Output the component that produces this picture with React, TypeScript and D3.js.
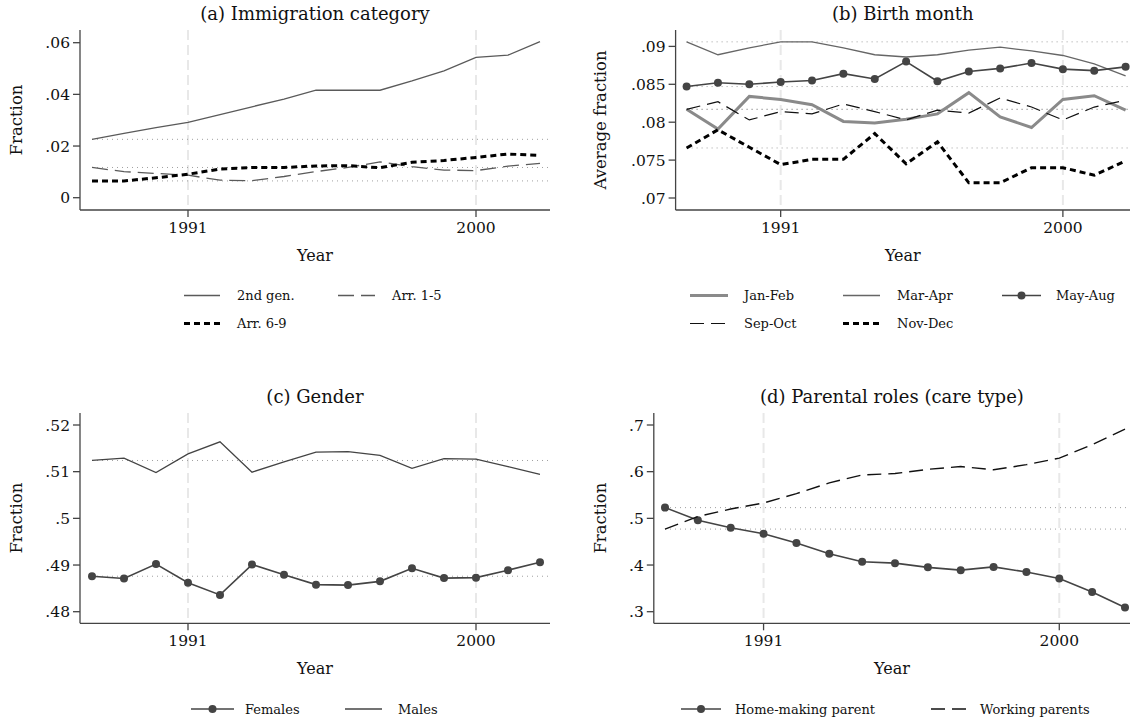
import React from "react";
import * as d3 from "d3";

// ---------- DATA ----------
const years = [1988, 1989, 1990, 1991, 1992, 1993, 1994, 1995, 1996, 1997, 1998, 1999, 2000, 2001, 2002];
const xTickYears = [1991, 2000];

// (a) Immigration category
const secondGen = [0.0226, 0.0249, 0.0271, 0.0292, 0.0322, 0.0352, 0.0382, 0.0416, 0.0416, 0.0416, 0.0452, 0.0491, 0.0543, 0.0552, 0.0604];
const arr15 = [0.0117, 0.0101, 0.0094, 0.0087, 0.0068, 0.0066, 0.0082, 0.0101, 0.0117, 0.0139, 0.012, 0.0107, 0.0105, 0.0122, 0.0133];
const arr69 = [0.0065, 0.0065, 0.0077, 0.0091, 0.0111, 0.0117, 0.0117, 0.0123, 0.0124, 0.0116, 0.0137, 0.0144, 0.0156, 0.0169, 0.0164];
const ticksA = [0, 0.02, 0.04, 0.06];
const tickLabelsA = ["0", ".02", ".04", ".06"];

// (b) Birth month
const janFeb = [0.0817, 0.0791, 0.0834, 0.083, 0.0823, 0.0801, 0.0799, 0.0804, 0.0811, 0.0839, 0.0807, 0.0793, 0.083, 0.0835, 0.0816];
const marApr = [0.0906, 0.0889, 0.0898, 0.0906, 0.0906, 0.0898, 0.0889, 0.0886, 0.0889, 0.0895, 0.0899, 0.0894, 0.0888, 0.0877, 0.0861];
const mayAug = [0.0847, 0.0852, 0.085, 0.0853, 0.0855, 0.0864, 0.0857, 0.088, 0.0854, 0.0867, 0.0871, 0.0878, 0.087, 0.0868, 0.0873];
const sepOct = [0.0817, 0.0827, 0.0803, 0.0814, 0.0811, 0.0824, 0.0814, 0.0803, 0.0816, 0.0812, 0.0832, 0.082, 0.0803, 0.082, 0.0829];
const novDec = [0.0766, 0.079, 0.0767, 0.0744, 0.0751, 0.0751, 0.0785, 0.0745, 0.0774, 0.072, 0.072, 0.074, 0.074, 0.073, 0.0749];
const ticksB = [0.07, 0.075, 0.08, 0.085, 0.09];
const tickLabelsB = [".07", ".075", ".08", ".085", ".09"];

// (c) Gender
const females = [0.4876, 0.4871, 0.4902, 0.4862, 0.4836, 0.4901, 0.4879, 0.4858, 0.4857, 0.4865, 0.4893, 0.4872, 0.4873, 0.4889, 0.4906];
const males = [0.5124, 0.5129, 0.5098, 0.5138, 0.5164, 0.5099, 0.5121, 0.5142, 0.5143, 0.5135, 0.5107, 0.5128, 0.5127, 0.5111, 0.5094];
const ticksC = [0.48, 0.49, 0.5, 0.51, 0.52];
const tickLabelsC = [".48", ".49", ".5", ".51", ".52"];

// (d) Parental roles
const homeMaking = [0.523, 0.496, 0.48, 0.467, 0.447, 0.424, 0.407, 0.404, 0.395, 0.389, 0.396, 0.385, 0.371, 0.342, 0.309];
const workingParents = [0.477, 0.504, 0.52, 0.533, 0.553, 0.576, 0.593, 0.596, 0.605, 0.611, 0.604, 0.615, 0.629, 0.658, 0.691];
const ticksD = [0.3, 0.4, 0.5, 0.6, 0.7];
const tickLabelsD = [".3", ".4", ".5", ".6", ".7"];

// ---------- STYLE ----------
const FONT = "'DejaVu Serif', serif";
const AXIS = "#444";

type Series = {
  name: string;
  values: number[];
  stroke: string;
  width: number;
  dash?: string;
  marker?: boolean;
};

type LegendItem = { series: Series; x: number; y: number; lineLen: number; textX: number };

type PanelProps = {
  title: string;
  ylabel: string;
  box: { l: number; t: number; r: number; b: number };
  xRange: [number, number];
  yDomain: [number, number];
  yRange: [number, number];
  ticks: number[];
  tickLabels: string[];
  ylabelX: number;
  series: Series[];
  legend: LegendItem[];
};

const Panel = (p: PanelProps) => {
  const x = d3.scaleLinear().domain([years[0], years[years.length - 1]]).range(p.xRange);
  const y = d3.scaleLinear().domain(p.yDomain).range(p.yRange);
  const line = (vals: number[]) =>
    d3
      .line<number>()
      .x((_, i) => x(years[i]))
      .y((v) => y(v))(vals) || "";
  const cx = (p.box.l + p.box.r) / 2;
  const cy = (p.box.t + p.box.b) / 2;
  return (
    <g>
      <text x={cx} y={p.box.t - 10} textAnchor="middle" fontFamily={FONT} fontSize={18} fill="#111">
        {p.title}
      </text>
      {/* vertical dashed grid lines */}
      {xTickYears.map((yr) => (
        <line
          key={"g" + yr}
          x1={x(yr)}
          x2={x(yr)}
          y1={p.box.t}
          y2={p.box.b}
          stroke="#e8e8e8"
          strokeWidth={2}
          strokeDasharray="10 5"
        />
      ))}
      {/* reference lines at first-year values */}
      {p.series.map((s) => (
        <line
          key={"r" + s.name}
          x1={x(years[0])}
          x2={p.box.r}
          y1={y(s.values[0])}
          y2={y(s.values[0])}
          stroke="#a0a0a0"
          strokeWidth={1}
          strokeDasharray="1 4"
        />
      ))}
      {/* series */}
      {p.series.map((s) => (
        <g key={"s" + s.name}>
          <path d={line(s.values)} fill="none" stroke={s.stroke} strokeWidth={s.width} strokeDasharray={s.dash} />
          {s.marker &&
            s.values.map((v, i) => <circle key={i} cx={x(years[i])} cy={y(v)} r={4} fill={s.stroke} />)}
        </g>
      ))}
      {/* axes */}
      <line x1={p.box.l} x2={p.box.l} y1={p.box.t} y2={p.box.b} stroke={AXIS} strokeWidth={1.3} />
      <line x1={p.box.l} x2={p.box.r} y1={p.box.b} y2={p.box.b} stroke={AXIS} strokeWidth={1.3} />
      {p.ticks.map((t, i) => (
        <g key={"yt" + i}>
          <line x1={p.box.l - 7} x2={p.box.l} y1={y(t)} y2={y(t)} stroke={AXIS} strokeWidth={1.3} />
          <text
            x={p.box.l - 10}
            y={y(t)}
            dy="0.36em"
            textAnchor="end"
            fontFamily={FONT}
            fontSize={15.5}
            fill="#111"
          >
            {p.tickLabels[i]}
          </text>
        </g>
      ))}
      {xTickYears.map((yr) => (
        <g key={"xt" + yr}>
          <line x1={x(yr)} x2={x(yr)} y1={p.box.b} y2={p.box.b + 7} stroke={AXIS} strokeWidth={1.3} />
          <text x={x(yr)} y={p.box.b + 23} textAnchor="middle" fontFamily={FONT} fontSize={15.5} fill="#111">
            {yr}
          </text>
        </g>
      ))}
      <text x={cx} y={p.box.b + 51} textAnchor="middle" fontFamily={FONT} fontSize={16} fill="#111">
        Year
      </text>
      <text
        transform={`translate(${p.ylabelX},${cy}) rotate(-90)`}
        textAnchor="middle"
        dy="0.36em"
        fontFamily={FONT}
        fontSize={16.5}
        fill="#111"
      >
        {p.ylabel}
      </text>
      {/* legend */}
      {p.legend.map((it, i) => (
        <g key={"l" + i}>
          <line
            x1={it.x}
            x2={it.x + it.lineLen}
            y1={it.y}
            y2={it.y}
            stroke={it.series.stroke}
            strokeWidth={it.series.width}
            strokeDasharray={it.series.dash}
          />
          {it.series.marker && <circle cx={it.x + it.lineLen / 2} cy={it.y} r={4} fill={it.series.stroke} />}
          <text x={it.textX} y={it.y} dy="0.35em" fontFamily={FONT} fontSize={13} fill="#111">
            {it.series.name}
          </text>
        </g>
      ))}
    </g>
  );
};

const sA: Series[] = [
  { name: "2nd gen.", values: secondGen, stroke: "#5a5a5a", width: 1.3 },
  { name: "Arr. 1-5", values: arr15, stroke: "#5a5a5a", width: 1.3, dash: "16 7" },
  { name: "Arr. 6-9", values: arr69, stroke: "#000", width: 3, dash: "6 4" },
];
const sB: Series[] = [
  { name: "Jan-Feb", values: janFeb, stroke: "#8a8a8a", width: 3 },
  { name: "Mar-Apr", values: marApr, stroke: "#666", width: 1.3 },
  { name: "May-Aug", values: mayAug, stroke: "#444", width: 1.6, marker: true },
  { name: "Sep-Oct", values: sepOct, stroke: "#111", width: 1.2, dash: "14 7" },
  { name: "Nov-Dec", values: novDec, stroke: "#000", width: 3, dash: "6 4" },
];
const sC: Series[] = [
  { name: "Females", values: females, stroke: "#444", width: 1.6, marker: true },
  { name: "Males", values: males, stroke: "#444", width: 1.3 },
];
const sD: Series[] = [
  { name: "Home-making parent", values: homeMaking, stroke: "#444", width: 1.6, marker: true },
  { name: "Working parents", values: workingParents, stroke: "#111", width: 1.4, dash: "14 7" },
];

export default function App() {
  return (
    <svg width={1130} height={720} style={{ display: "block", position: "absolute", left: 0, top: 0, background: "#fff" }}>
      <rect width={1130} height={720} fill="#fff" />
      <Panel
        title="(a) Immigration category"
        ylabel="Fraction"
        box={{ l: 80, t: 30, r: 550, b: 210 }}
        xRange={[92, 540]}
        yDomain={[0, 0.06]}
        yRange={[197.7, 42.7]}
        ticks={ticksA}
        tickLabels={tickLabelsA}
        ylabelX={16}
        series={sA}
        legend={[
          { series: sA[0], x: 184, y: 295.5, lineLen: 36, textX: 237 },
          { series: sA[1], x: 338, y: 295.5, lineLen: 37, textX: 392 },
          { series: sA[2], x: 184, y: 323.5, lineLen: 36, textX: 237 },
        ]}
      />
      <Panel
        title="(b) Birth month"
        ylabel="Average fraction"
        box={{ l: 675.6, t: 30, r: 1130, b: 210 }}
        xRange={[686.6, 1125.6]}
        yDomain={[0.07, 0.09]}
        yRange={[198, 46.4]}
        ticks={ticksB}
        tickLabels={tickLabelsB}
        ylabelX={600}
        series={sB}
        legend={[
          { series: sB[0], x: 690, y: 295.5, lineLen: 38, textX: 744 },
          { series: sB[1], x: 843, y: 295.5, lineLen: 37, textX: 897 },
          { series: sB[2], x: 1002, y: 295.5, lineLen: 39, textX: 1056 },
          { series: sB[3], x: 690, y: 323.5, lineLen: 38, textX: 744 },
          { series: sB[4], x: 843, y: 323.5, lineLen: 37, textX: 897 },
        ]}
      />
      <Panel
        title="(c) Gender"
        ylabel="Fraction"
        box={{ l: 80, t: 413, r: 550, b: 623.3 }}
        xRange={[92, 540]}
        yDomain={[0.48, 0.52]}
        yRange={[611.7, 425]}
        ticks={ticksC}
        tickLabels={tickLabelsC}
        ylabelX={16}
        series={sC}
        legend={[
          { series: sC[0], x: 191, y: 709, lineLen: 43, textX: 245 },
          { series: sC[1], x: 345, y: 709, lineLen: 37, textX: 398 },
        ]}
      />
      <Panel
        title="(d) Parental roles (care type)"
        ylabel="Fraction"
        box={{ l: 653.8, t: 413, r: 1130, b: 623.3 }}
        xRange={[665, 1125]}
        yDomain={[0.3, 0.7]}
        yRange={[611.7, 425]}
        ticks={ticksD}
        tickLabels={tickLabelsD}
        ylabelX={600}
        series={sD}
        legend={[
          { series: sD[0], x: 681, y: 709, lineLen: 40, textX: 735 },
          { series: sD[1], x: 931, y: 709, lineLen: 38, textX: 980 },
        ]}
      />
    </svg>
  );
}
